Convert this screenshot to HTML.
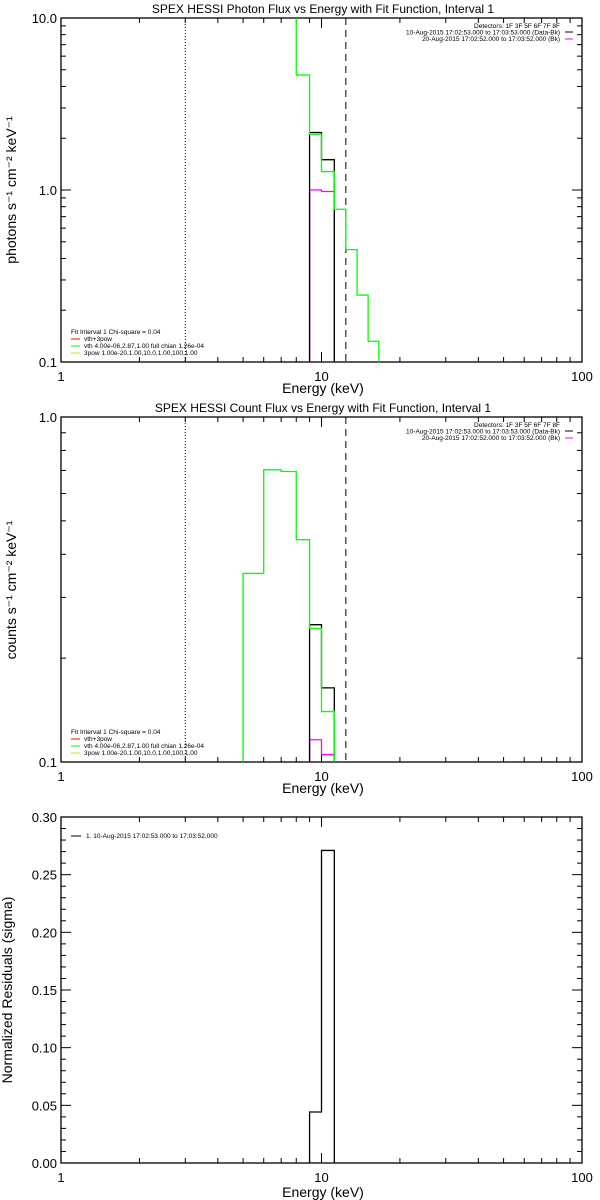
<!DOCTYPE html>
<html><head><meta charset="utf-8"><style>
html,body{margin:0;padding:0;background:#fff;}
svg{display:block;font-family:"Liberation Sans",sans-serif;}
</style></head><body>
<svg id="chart" width="600" height="1200" viewBox="0 0 600 1200" xmlns="http://www.w3.org/2000/svg"></svg>
<script>
// ---- data ----
const edgesP1 = [8, 9, 10, 11.2, 12.4, 13.7, 15.1, 16.6];
const photonModel = [4.66, 2.11, 1.28, 0.773, 0.45, 0.245, 0.132];
const photonDataEdges = [9, 10, 11.2];
const photonData = [2.16, 1.5];
const photonBk = [1.0, 0.98];
const edgesP2 = [5, 6, 7, 8, 9, 10, 11.2];
const countModel = [0.352, 0.703, 0.695, 0.441, 0.244, 0.140];
const countDataEdges = [9, 10, 11.2];
const countData = [0.250, 0.164];
const countBk = [0.116, 0.105];
const residEdges = [9, 10, 11.2];
const residVals = [0.0442, 0.271];
const fitRangeLo = 3.0;
const fitRangeHi = 12.4;
const xTickLabels = ["1", "10", "100"];
const p1YTicks = ["0.1", "1.0", "10.0"];
const p2YTicks = ["0.1", "1.0"];
const p3YTicks = ["0.00","0.05","0.10","0.15","0.20","0.25","0.30"];

const NS = "http://www.w3.org/2000/svg";
const svg = document.getElementById('chart');
const L = 61, R = 582;
function mk(tag, attrs, parent) {
  const e = document.createElementNS(NS, tag);
  for (const k in attrs) e.setAttribute(k, attrs[k]);
  (parent || svg).appendChild(e);
  return e;
}
function xs(e) { return L + (R - L) * Math.log10(e) / 2; }

function panel(top, bot, ylog, ymin, ymax, name) {
  const g = mk('g', {});
  
  
  const ys = ylog
    ? v => bot - (bot - top) * (Math.log10(v) - Math.log10(ymin)) / (Math.log10(ymax) - Math.log10(ymin))
    : v => bot - (bot - top) * (v - ymin) / (ymax - ymin);
  const frame = mk('rect', {x: L, y: top, width: R - L, height: bot - top, fill: 'none', stroke: '#000', 'stroke-width': 1.3}, g);
  
  
  // x ticks
  for (let d = 0; d < 2; d++) for (let m = 1; m <= 9; m++) {
    const v = Math.pow(10, d) * m;
    const x = xs(v); const len = m === 1 ? 10 : 5;
    mk('line', {x1: x, x2: x, y1: bot, y2: bot - len, stroke: '#000'}, g);
    mk('line', {x1: x, x2: x, y1: top, y2: top + len, stroke: '#000'}, g);
  }
  xTickLabels.forEach((t, i) => {
    const tx = mk('text', {x: xs(Math.pow(10, i)), y: bot + 19, 'font-size': 13, 'text-anchor': 'middle'}, g);
    tx.textContent = t;
    
    
  });
  return {g, ys};
}
function yLogTicks(p, top, bot, ymin, ymax, labels) {
  const d0 = Math.log10(ymin), d1 = Math.log10(ymax);
  for (let d = d0; d < d1; d++) for (let m = 1; m <= 9; m++) {
    const v = Math.pow(10, d) * m; const y = p.ys(v); const len = m === 1 ? 10 : 5;
    mk('line', {x1: L, x2: L + len, y1: y, y2: y, stroke: '#000'}, p.g);
    mk('line', {x1: R, x2: R - len, y1: y, y2: y, stroke: '#000'}, p.g);
  }
  labels.forEach(t => {
    const tx = mk('text', {x: L - 4, y: p.ys(parseFloat(t)) + 5, 'font-size': 13, 'text-anchor': 'end'}, p.g);
    tx.textContent = t;
    
    
  });
}
function hist(p, edges, vals, color, name, top, bot, dropStart, dropEnd) {
  let d = '';
  const y0 = p.ys(vals[0]);
  d += dropStart === 'top' ? `M${xs(edges[0])},${top}` : `M${xs(edges[0])},${bot}`;
  for (let i = 0; i < vals.length; i++) {
    const y = Math.max(top, Math.min(bot, p.ys(vals[i])));
    d += ` L${xs(edges[i])},${y} L${xs(edges[i + 1])},${y}`;
  }
  if (dropEnd) d += ` L${xs(edges[edges.length - 1])},${bot}`;
  const path = mk('path', {d: d, fill: 'none', stroke: color, 'stroke-width': 1.3}, p.g);
  
  
}
function vlines(p, top, bot) {
  const a = mk('line', {x1: xs(fitRangeLo), x2: xs(fitRangeLo), y1: top, y2: bot, stroke: '#000', 'stroke-dasharray': '1,2'}, p.g);
  
  
  const b = mk('line', {x1: xs(fitRangeHi), x2: xs(fitRangeHi), y1: top, y2: bot, stroke: '#000', 'stroke-dasharray': '7,5'}, p.g);
  
  
}
function txt(x, y, s, size, anchor, name, extra) {
  const t = mk('text', Object.assign({x: x, y: y, 'font-size': size, 'text-anchor': anchor || 'start'}, extra || {}));
  t.textContent = s;
  
  
  return t;
}
function legends(top, bot) {
  txt(560, top + 10, 'Detectors: 1F 3F 5F 6F 7F 8F', 6.5, 'end', 'legend-detectors');
  txt(560, top + 16.5, '10-Aug-2015 17:02:53.000 to 17:03:53.000 (Data-Bk)', 6.5, 'end', 'legend-data');
  mk('line', {x1: 565, x2: 573, y1: top + 14, y2: top + 14, stroke: '#000'});
  txt(560, top + 23, '20-Aug-2015 17:02:52.000 to 17:03:52.000 (Bk)', 6.5, 'end', 'legend-background');
  mk('line', {x1: 565, x2: 573, y1: top + 21, y2: top + 21, stroke: '#f0f'});
  txt(71, bot - 28, 'Fit Interval 1    Chi-square = 0.04', 6.5, 'start', 'legend-fit-interval');
  const rows = [['vth+3pow', '#f00'], ['vth 4.00e-06,2.87,1.00  full chian 1.26e-04', '#0f0'], ['3pow 1.00e-20,1.00,10.0,1.00,100,1.00', '#dd0']];
  rows.forEach((r, i) => {
    const y = bot - 21 + i * 7;
    mk('line', {x1: 71, x2: 80, y1: y - 2, y2: y - 2, stroke: r[1]});
    txt(84, y, r[0], 6.5, 'start', 'legend-model-' + i);
  });
}

// Panel 1
let T = 18, B = 362;
const p1 = panel(T, B, true, 0.1, 10, 'photon-flux-panel');
yLogTicks(p1, T, B, 0.1, 10, p1YTicks);
vlines(p1, T, B);
hist(p1, photonDataEdges, photonBk, '#f0f', 'photon-background', T, B, 'bot', true);
hist(p1, photonDataEdges, photonData, '#000', 'photon-data', T, B, 'bot', true);
hist(p1, edgesP1, photonModel, '#0f0', 'photon-model', T, B, 'top', true);
txt(323, 13, 'SPEX HESSI Photon Flux vs Energy with Fit Function, Interval 1', 12, 'middle', 'photon-title');
txt(323, 393, 'Energy (keV)', 14, 'middle', 'photon-x-title');
txt(16, 190, 'photons s⁻¹ cm⁻² keV⁻¹', 14, 'middle', 'photon-y-title', {transform: 'rotate(-90 16 190)'});
legends(T, B);

// Panel 2
T = 417; B = 762;
const p2 = panel(T, B, true, 0.1, 1, 'count-flux-panel');
yLogTicks(p2, T, B, 0.1, 1, p2YTicks);
vlines(p2, T, B);
hist(p2, countDataEdges, countBk, '#f0f', 'count-background', T, B, 'bot', true);
hist(p2, countDataEdges, countData, '#000', 'count-data', T, B, 'bot', true);
hist(p2, edgesP2, countModel, '#0f0', 'count-model', T, B, 'bot', true);
txt(323, 412, 'SPEX HESSI Count Flux vs Energy with Fit Function, Interval 1', 12, 'middle', 'count-title');
txt(323, 793, 'Energy (keV)', 14, 'middle', 'count-x-title');
txt(16, 590, 'counts s⁻¹ cm⁻² keV⁻¹', 14, 'middle', 'count-y-title', {transform: 'rotate(-90 16 590)'});
legends(T, B);

// Panel 3
T = 817; B = 1163;
const p3 = panel(T, B, false, 0, 0.3, 'residuals-panel');
for (let i = 0; i <= 30; i++) {
  const y = p3.ys(i * 0.01); const len = i % 5 === 0 ? 10 : 5;
  mk('line', {x1: L, x2: L + len, y1: y, y2: y, stroke: '#000'}, p3.g);
  mk('line', {x1: R, x2: R - len, y1: y, y2: y, stroke: '#000'}, p3.g);
}
p3YTicks.forEach(t => {
  const tx = mk('text', {x: L - 4, y: p3.ys(parseFloat(t)) + 5, 'font-size': 13, 'text-anchor': 'end'}, p3.g);
  tx.textContent = t;
  
  
});
hist(p3, residEdges, residVals, '#000', 'residuals-hist', T, B, 'bot', true);
txt(323, 1197, 'Energy (keV)', 14, 'middle', 'residuals-x-title');
txt(12, 990, 'Normalized Residuals (sigma)', 14, 'middle', 'residuals-y-title', {transform: 'rotate(-90 12 990)'});
mk('line', {x1: 71, x2: 81, y1: 836, y2: 836, stroke: '#000'});
txt(86, 838, '1. 10-Aug-2015 17:02:53.000 to 17:03:52.000', 6.5, 'start', 'residuals-legend');
</script>
</body></html>
